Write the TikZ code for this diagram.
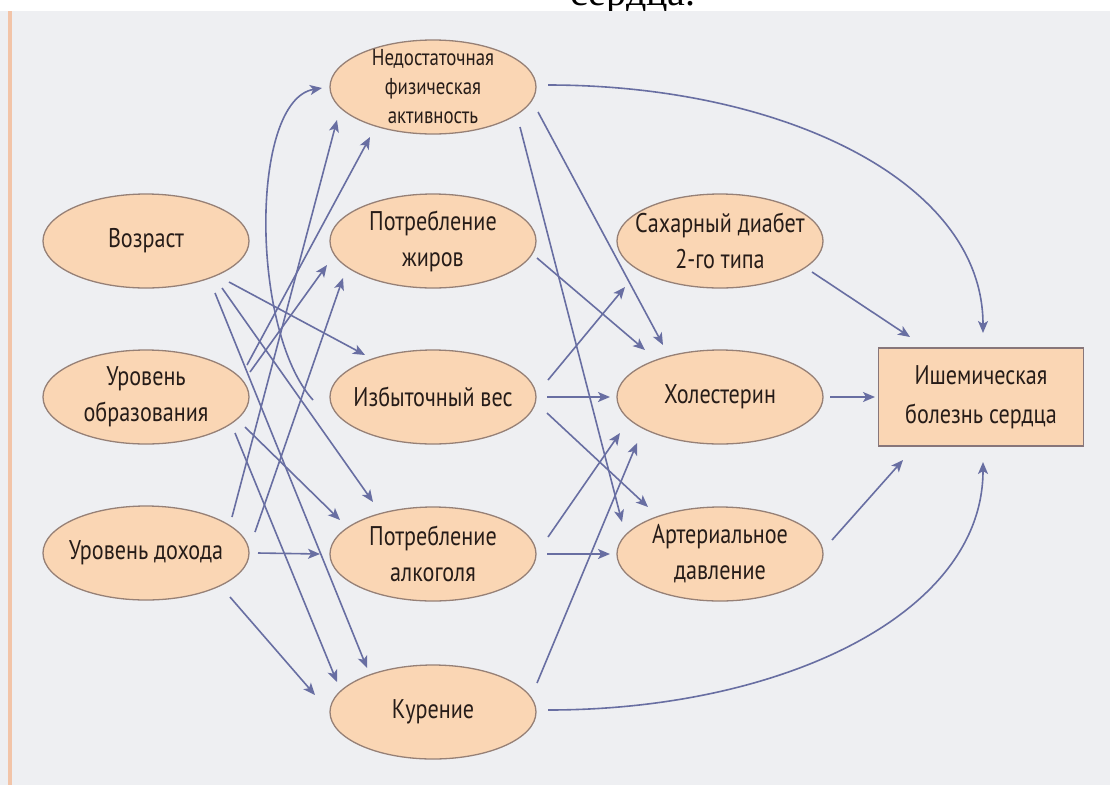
\documentclass[tikz,border=0pt]{standalone}
\usepackage{fontspec}
\setmainfont{PT Sans}[FakeStretch=0.82]
\newfontfamily\serifru{Liberation Serif}
\usetikzlibrary{arrows.meta,shapes.geometric,calc}
\definecolor{bg}{RGB}{238,239,242}
\definecolor{ellfill}{RGB}{250,214,180}
\definecolor{ellline}{RGB}{150,128,118}
\definecolor{boxline}{RGB}{135,118,122}
\definecolor{arrcol}{RGB}{104,110,162}
\definecolor{txtcol}{RGB}{38,28,24}
\definecolor{sidebar}{RGB}{242,196,168}
\begin{document}
\begin{tikzpicture}[x=1pt,y=-1pt,
  ell/.style={ellipse, draw=ellline, line width=1.3pt, fill=ellfill,
    minimum width=206pt, minimum height=94pt, inner sep=-30pt, align=center,
    text=txtcol, font=\fontsize{27}{36}\selectfont},
  ellsmall/.style={ell, font=\fontsize{23}{29}\selectfont},
  ibsbox/.style={rectangle, draw=boxline, line width=1.8pt, fill=ellfill,
    minimum width=205pt, minimum height=98pt, inner sep=0pt, align=center,
    text=txtcol, font=\fontsize{27}{39}\selectfont},
  arr/.style={draw=arrcol, line width=1.6pt,
    -{Stealth[length=12pt,width=10pt,inset=3pt]}}
]
\useasboundingbox (0,0) rectangle (1110,785);
\clip (0,0) rectangle (1110,785);
\fill[white] (0,0) rectangle (1110,785);
\node[font=\serifru\fontsize{40}{40}\selectfont, anchor=base] (ttl) at (633,5) {сердца.};
\fill[bg] (0,11) rectangle (1110,785);
\draw[sidebar, line width=4pt] (10,11) -- (10,785);

% nodes
\node[ell] (vozr) at (146,241) {Возраст};
\node[ell] (obr) at (146,397) {Уровень\\образования};
\node[ell] (doh) at (146,553) {Уровень дохода};
\node[ellsmall] (nfa) at (433,87) {Недостаточная\\физическая\\активность};
\node[ell] (zhir) at (433,241) {Потребление\\жиров};
\node[ell] (izb) at (433,397) {Избыточный вес};
\node[ell] (alk) at (433,554) {Потребление\\алкоголя};
\node[ell] (kur) at (433,712) {Курение};
\node[ell] (diab) at (720,241) {Сахарный диабет\\2-го типа};
\node[ell] (hol) at (720,397) {Холестерин};
\node[ell] (ad) at (720,554) {Артериальное\\давление};
\node[ibsbox] (ibs) at (981,397) {Ишемическая\\болезнь сердца};

% left column edges
\draw[arr] ($(vozr)+(83,41)$) -- ($(izb)+(-68,-42)$);
\draw[arr] ($(vozr)+(76,47)$) -- ($(alk)+(-60,-52)$);
\draw[arr] ($(vozr)+(69,52)$) -- ($(kur)+(-66,-44)$);
\draw[arr] ($(obr)+(101,-32)$) -- ($(nfa)+(-63,50)$);
\draw[arr] ($(obr)+(104,-25)$) -- ($(zhir)+(-106,24)$);
\draw[arr] ($(obr)+(99,30)$) -- ($(alk)+(-93,-34)$);
\draw[arr] ($(obr)+(89,36)$) -- ($(kur)+(-96,-30)$);
\draw[arr] ($(doh)+(86,-36)$) -- ($(nfa)+(-96,33)$);
\draw[arr] ($(doh)+(109,-21)$) -- ($(zhir)+(-90,37)$);
\draw[arr] ($(doh)+(112,0)$) -- ($(alk)+(-113,0)$);
\draw[arr] ($(doh)+(84,44)$) -- ($(kur)+(-118,-17)$);
\draw[arr] ($(izb)+(-120,3)$) .. controls ($(izb)+(-183,-67)$) and ($(nfa)+(-183,13)$) .. ($(nfa)+(-111,1)$);

% middle column edges
\draw[arr] ($(nfa)+(115,-2)$) .. controls ($(nfa)+(347,-2)$) and ($(ibs)+(2,-217)$) .. ($(ibs)+(2,-64)$);
\draw[arr] ($(nfa)+(105,25)$) -- ($(hol)+(-57,-52)$);
\draw[arr] ($(nfa)+(87,40)$) -- ($(ad)+(-98,-32)$);
\draw[arr] ($(zhir)+(104,17)$) -- ($(hol)+(-75,-47)$);
\draw[arr] ($(izb)+(115,-17)$) -- ($(diab)+(-95,46)$);
\draw[arr] ($(izb)+(114,0)$) -- ($(hol)+(-110,0)$);
\draw[arr] ($(izb)+(114,16)$) -- ($(ad)+(-72,-47)$);
\draw[arr] ($(alk)+(115,-17)$) -- ($(hol)+(-100,36)$);
\draw[arr] ($(alk)+(114,0)$) -- ($(ad)+(-110,0)$);
\draw[arr] ($(kur)+(104,-29)$) -- ($(hol)+(-83,46)$);
\draw[arr] ($(kur)+(115,-2)$) .. controls ($(kur)+(347,-2)$) and ($(ibs)+(2,218)$) .. ($(ibs)+(2,65)$);

% right column edges
\draw[arr] ($(diab)+(92,31)$) -- ($(ibs)+(-71,-60)$);
\draw[arr] ($(hol)+(110,0)$) -- ($(ibs)+(-106,0)$);
\draw[arr] ($(ad)+(112,-14)$) -- ($(ibs)+(-78,63)$);
\end{tikzpicture}
\end{document}
